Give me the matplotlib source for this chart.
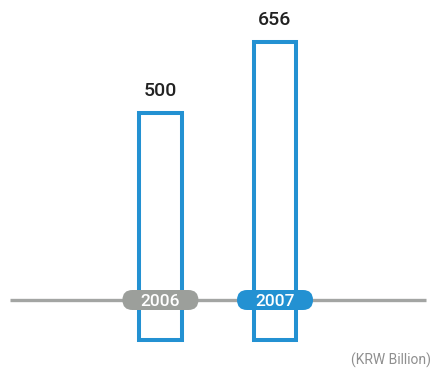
import matplotlib
matplotlib.use("Agg")
import matplotlib.pyplot as plt
from matplotlib.patches import FancyBboxPatch
from matplotlib import transforms

years = ["2006", "2007"]
values = [500, 656]
unit_label = "(KRW Billion)"

BLUE = "#2391d2"
GRAY = "#9c9f9b"
LINE_GRAY = "#a3a5a3"
TEXT = "#222222"

plt.rcParams["font.family"] = ["Roboto", "DejaVu Sans"]

fig = plt.figure(figsize=(4.32, 3.75), dpi=100)
ax = fig.add_axes([0, 0, 1, 1])
ax.set_xlim(-1.40, 2.37)
ax.set_ylim(-77, 748)
ax.axis("off")

x = list(range(len(years)))

# horizontal timeline
ax.plot([0.023, 0.985], [0.20, 0.20], transform=ax.transAxes,
        color=LINE_GRAY, lw=2.4, solid_capstyle="butt", zorder=1)

bars = ax.bar(x, values, width=0.375, facecolor="none",
              edgecolor=BLUE, linewidth=2.9, zorder=2)

for xi, v in zip(x, values):
    ax.annotate(f"{v}", (xi, v), xytext=(0, 9), textcoords="offset points",
                ha="center", va="bottom", fontsize=14, color=TEXT,
                fontweight="medium")

# year pills on the timeline
blend = transforms.blended_transform_factory(ax.transData, ax.transAxes)
pill_colors = [GRAY, BLUE]
for xi, yr, c in zip(x, years, pill_colors):
    tr = fig.dpi_scale_trans + transforms.ScaledTranslation(xi, 0.20, blend)
    pill = FancyBboxPatch((-0.38, -0.10), 0.76, 0.20,
                          boxstyle="round,pad=0,rounding_size=0.1",
                          facecolor=c, edgecolor="none",
                          transform=tr, zorder=3)
    ax.add_patch(pill)
    ax.text(xi, 0.20, yr, transform=blend, ha="center", va="center_baseline",
            fontsize=12.5, color="white", fontweight="medium", zorder=4)

ax.text(0.998, 0.018, unit_label, transform=ax.transAxes, ha="right",
        va="bottom", fontsize=10, color="#8f8f8f")

fig.savefig("out.png", dpi=100)
